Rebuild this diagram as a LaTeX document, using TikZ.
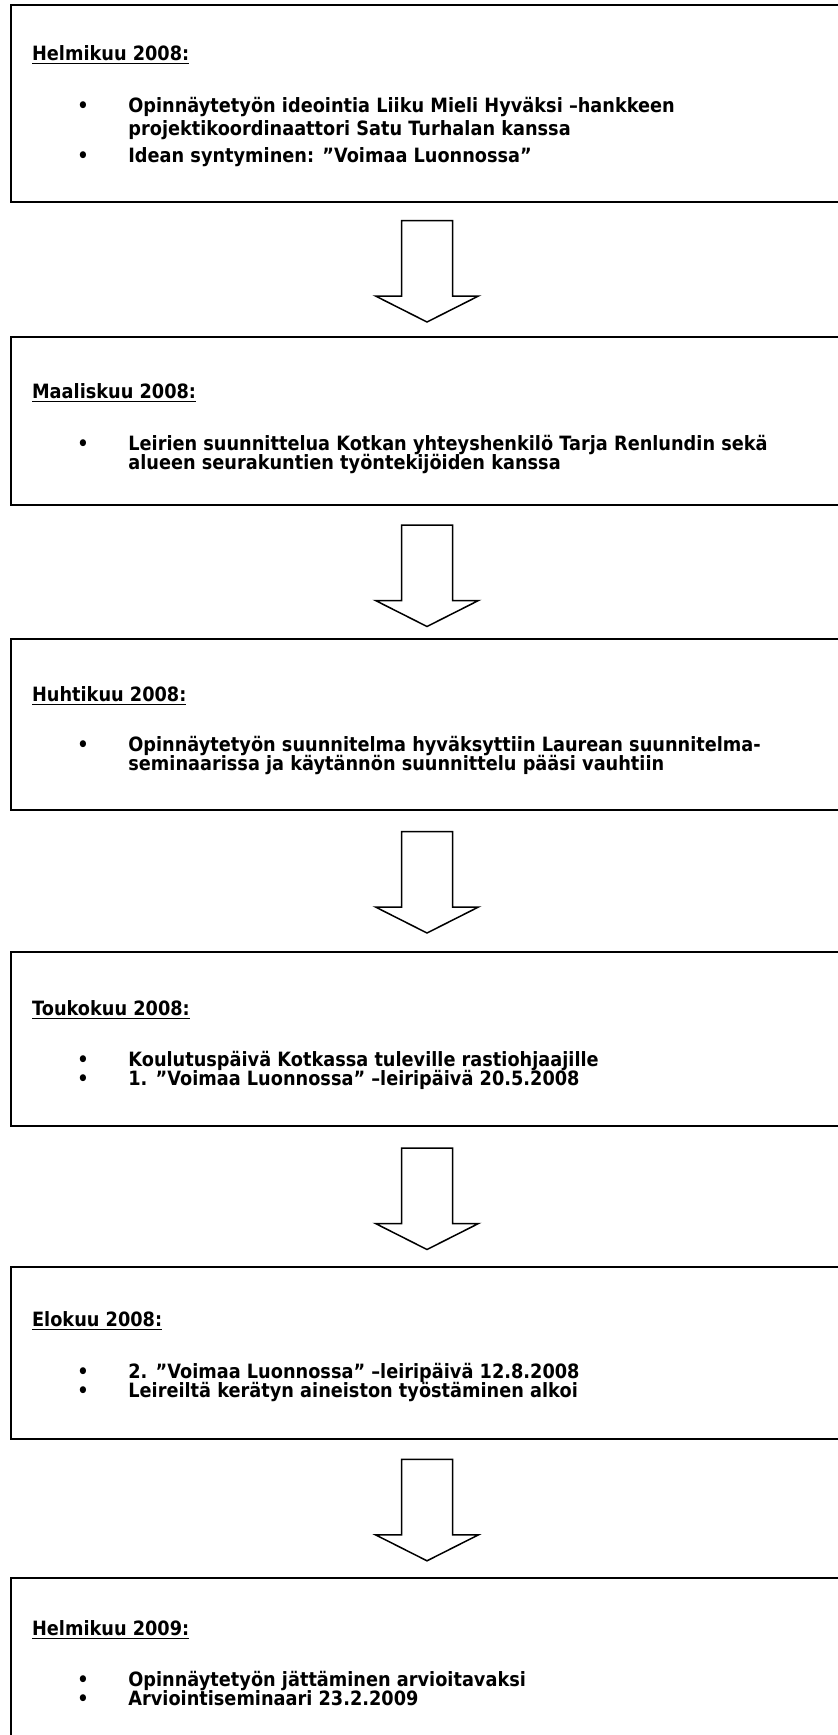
\documentclass[tikz,border=0pt]{standalone}
\usepackage{fontspec}
\setmainfont{DejaVu Sans}[FakeStretch=0.9]
\usetikzlibrary{fit}

\tikzset{
  stagebox/.style={draw, line width=1pt, inner sep=0pt},
  monthhead/.style={anchor=base west, inner sep=0pt, font=\bfseries\fontsize{9.85}{12}\selectfont},
  itemdot/.style={anchor=base, inner sep=0pt, font=\bfseries\fontsize{9.85}{12}\selectfont},
  itemline/.style={anchor=base west, inner sep=0pt, font=\bfseries\fontsize{9.85}{12}\selectfont},
  blockarrow/.style={draw, line width=0.75pt, fill=white, line join=miter}
}

\begin{document}
\begin{tikzpicture}[x=0.5pt, y=-0.5pt]
  \useasboundingbox (0,0) rectangle (838,1735);
  \clip (0,0) rectangle (838,1735);

  % Stage boxes (they run out over the right edge)
  \node[stagebox, fit={(10.7,5) (850,202)}] (b1) {};
  \node[stagebox, fit={(10.7,337) (850,505)}] (b2) {};
  \node[stagebox, fit={(10.7,639) (850,810)}] (b3) {};
  \node[stagebox, fit={(10.7,952) (850,1126)}] (b4) {};
  \node[stagebox, fit={(10.7,1267) (850,1439)}] (b5) {};
  \node[stagebox, fit={(10.7,1578) (850,1760)}] (b6) {};

  % Helmikuu 2008
  \node[monthhead] (h1) at (31.7,60) {\underline{Helmikuu 2008:}};
  \node[itemdot] (d11) at (83,112) {•};
  \node[itemline] (t11) at (128,112) {Opinnäytetyön ideointia Liiku Mieli Hyväksi –hankkeen};
  \node[itemline] (t12) at (128,135.5) {projektikoordinaattori Satu Turhalan kanssa};
  \node[itemdot] (d12) at (83,162) {•};
  \node[itemline] (t13) at (128,162) {Idean syntyminen: ”Voimaa Luonnossa”};

  % Maaliskuu 2008
  \node[monthhead] (h2) at (31.7,398) {\underline{Maaliskuu 2008:}};
  \node[itemdot] (d21) at (83,450) {•};
  \node[itemline] (t21) at (128,450) {Leirien suunnittelua Kotkan yhteyshenkilö Tarja Renlundin sekä};
  \node[itemline] (t22) at (128,469.5) {alueen seurakuntien työntekijöiden kanssa};

  % Huhtikuu 2008
  \node[monthhead] (h3) at (31.7,701) {\underline{Huhtikuu 2008:}};
  \node[itemdot] (d31) at (83,751) {•};
  \node[itemline] (t31) at (128,751) {Opinnäytetyön suunnitelma hyväksyttiin Laurean suunnitelma-};
  \node[itemline] (t32) at (128,770.5) {seminaarissa ja käytännön suunnittelu pääsi vauhtiin};

  % Toukokuu 2008
  \node[monthhead] (h4) at (31.7,1015) {\underline{Toukokuu 2008:}};
  \node[itemdot] (d41) at (83,1066) {•};
  \node[itemline] (t41) at (128,1066) {Koulutuspäivä Kotkassa tuleville rastiohjaajille};
  \node[itemdot] (d42) at (83,1085.5) {•};
  \node[itemline] (t42) at (128,1085.5) {1. ”Voimaa Luonnossa” –leiripäivä 20.5.2008};

  % Elokuu 2008
  \node[monthhead] (h5) at (31.7,1326) {\underline{Elokuu 2008:}};
  \node[itemdot] (d51) at (83,1378) {•};
  \node[itemline] (t51) at (128,1378) {2. ”Voimaa Luonnossa” –leiripäivä 12.8.2008};
  \node[itemdot] (d52) at (83,1397.5) {•};
  \node[itemline] (t52) at (128,1397.5) {Leireiltä kerätyn aineiston työstäminen alkoi};

  % Helmikuu 2009
  \node[monthhead] (h6) at (31.7,1635) {\underline{Helmikuu 2009:}};
  \node[itemdot] (d61) at (83,1686) {•};
  \node[itemline] (t61) at (128,1686) {Opinnäytetyön jättäminen arvioitavaksi};
  \node[itemdot] (d62) at (83,1705.5) {•};
  \node[itemline] (t62) at (128,1705.5) {Arviointiseminaari 23.2.2009};

  % Block arrows between the stages
  \coordinate (a1) at ([shift={(417.3,17.5)}]b1.south west);
  \coordinate (a2) at ([shift={(417.3,19)}]b2.south west);
  \coordinate (a3) at ([shift={(417.3,20.5)}]b3.south west);
  \coordinate (a4) at ([shift={(417.3,21)}]b4.south west);
  \coordinate (a5) at ([shift={(417.3,19.3)}]b5.south west);
  \foreach \i in {1,...,5} {
    \draw[blockarrow] (a\i) ++(-25.5,0) -- ++(0,75.5) -- ++(-26,0)
      -- ++(51.5,26) -- ++(51.5,-26) -- ++(-26,0) -- ++(0,-75.5) -- cycle;
  }
\end{tikzpicture}
\end{document}
